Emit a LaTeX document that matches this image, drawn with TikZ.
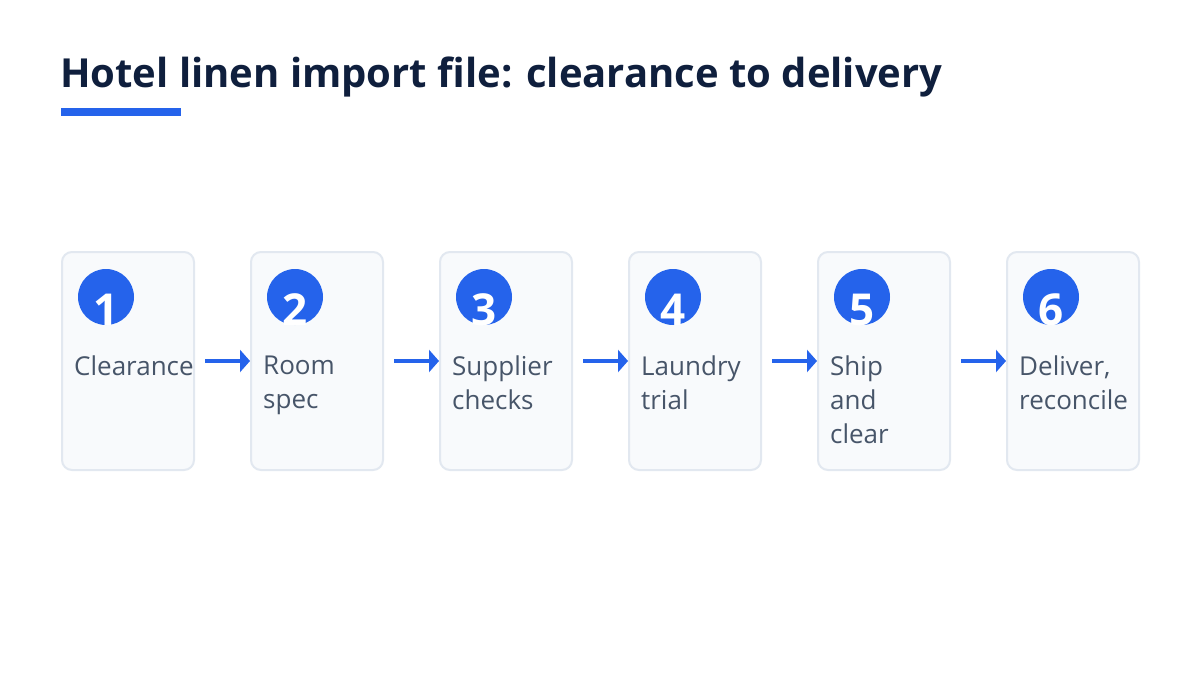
\documentclass[tikz,border=0pt]{standalone}
\usepackage{fontspec}
\setmainfont{Open Sans}
\usetikzlibrary{arrows.meta}
\definecolor{titlec}{HTML}{0F1F3D}
\definecolor{accent}{HTML}{2563EB}
\definecolor{boxline}{HTML}{E2E8F0}
\definecolor{boxfill}{HTML}{F8FAFC}
\definecolor{labelc}{HTML}{475569}
\tikzset{
  stepbox/.style={draw=boxline, line width=2pt, fill=boxfill, rounded corners=10pt, minimum width=132pt, minimum height=218pt, inner sep=0pt, anchor=north west},
  badge/.style={circle, fill=accent, minimum size=56pt, inner sep=0pt},
  digit/.style={text=white, font=\fontsize{44}{46}\selectfont\bfseries, inner sep=0pt, anchor=base},
  steplabel/.style={text=labelc, font=\fontsize{26}{34}\selectfont, align=left, inner sep=0pt, anchor=north west},
  flow/.style={draw=accent, line width=4pt, -{Triangle[length=10pt,width=22pt]}},
}
\begin{document}
\begin{tikzpicture}[x=1pt,y=-1pt]
\useasboundingbox[fill=white] (0,0) rectangle (1200,675);
\node[anchor=base west, inner sep=0pt, text=titlec, font=\fontsize{40}{44}\selectfont\bfseries] (title) at (60,87) {Hotel linen import file: clearance to delivery};
\fill[accent] (61,108) rectangle (181,116);
\foreach \i/\t in {1/{Clearance},2/{Room\\spec},3/{Supplier\\checks},4/{Laundry\\trial},5/{Ship\\and\\clear},6/{Deliver,\\reconcile}}{
  \pgfmathsetmacro{\bx}{61+189*(\i-1)}
  \node[stepbox] (b\i) at (\bx,251) {};
  \node[badge] (c\i) at (\bx+45,297) {};
  \node[digit] (d\i) at (\bx+45,325) {\i};
  \node[steplabel] (l\i) at (\bx+13,356) {\t};
}
\foreach \i [evaluate=\i as \j using int(\i+1)] in {1,...,5}{
  \draw[flow] ([xshift=10pt]b\i.east) -- (b\j.west);
}
\end{tikzpicture}
\end{document}
